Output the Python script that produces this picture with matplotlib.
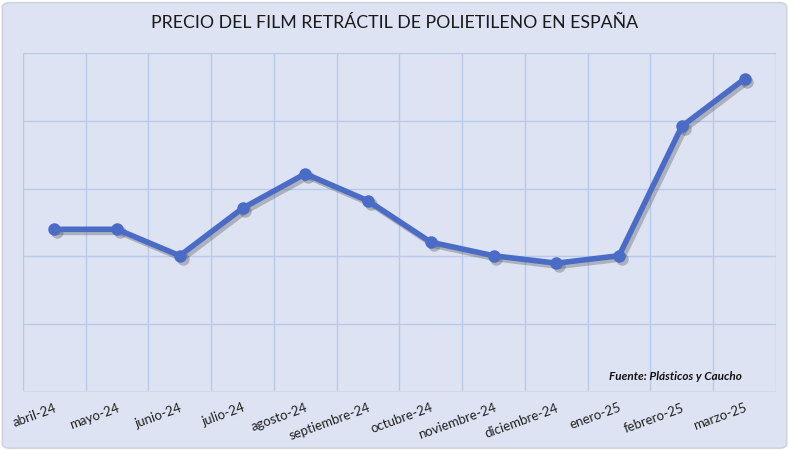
import matplotlib.pyplot as plt
import matplotlib.transforms as mtransforms
from matplotlib.patches import FancyBboxPatch
import numpy as np

# datos (escala relativa, el original no muestra eje Y)
meses = ['abril-24', 'mayo-24', 'junio-24', 'julio-24', 'agosto-24', 'septiembre-24',
         'octubre-24', 'noviembre-24', 'diciembre-24', 'enero-25', 'febrero-25', 'marzo-25']
precio = [2.40, 2.40, 2.01, 2.71, 3.22, 2.82, 2.21, 2.01, 1.90, 2.01, 3.92, 4.62]

bg = '#dde3f3'
azul = '#4a6cc6'
rejilla = '#b8c9ea'

plt.rcParams['font.family'] = ['Lato', 'DejaVu Sans']

fig = plt.figure(figsize=(7.89, 4.5), dpi=100)
fig.patch.set_facecolor('white')
fig.patches.append(FancyBboxPatch((0.003, 0.004), 0.994, 0.99, boxstyle='round,pad=0,rounding_size=0.01',
                                  transform=fig.transFigure, facecolor=bg, edgecolor='#cfd3dc',
                                  linewidth=1.2, zorder=-10))

ax = fig.add_axes([0.029, 0.129, 0.9545, 0.753])
ax.set_facecolor(bg)

x = np.arange(len(meses))
# sombra
sombra = ax.transData + mtransforms.ScaledTranslation(2 / 72, -2 / 72, fig.dpi_scale_trans)
ax.plot(x, precio, color='#555555', alpha=0.35, linewidth=4.5, marker='o', markersize=9,
        markeredgewidth=0, transform=sombra, zorder=2)
ax.plot(x, precio, color=azul, linewidth=4, marker='o', markersize=9, markeredgewidth=0,
        solid_capstyle='round', zorder=3)

ax.set_xlim(-0.5, len(meses) - 0.5)
ax.set_ylim(0, 5)

# rejilla entre categorias
for b in np.arange(-0.5, len(meses), 1):
    ax.axvline(b, color=rejilla, linewidth=1, zorder=1)
for h in range(1, 6):
    ax.axhline(h, color=rejilla, linewidth=1, zorder=1)
ax.axhline(0, color='#d4d8e0', linewidth=1.5, zorder=2)

for s in ax.spines.values():
    s.set_visible(False)
ax.set_yticks([])
ax.set_xticks(x)
ax.set_xticklabels(meses, rotation=20, ha='right', rotation_mode='anchor', fontsize=9.5, color='#222222')
ax.tick_params(axis='x', length=0, pad=7)

fig.text(0.5, 0.948, 'PRECIO DEL FILM RETRÁCTIL DE POLIETILENO EN ESPAÑA', ha='center', va='center',
         fontsize=12.8, color='#1a1a1a')
ax.text(0.955, 0.045, 'Fuente: Plásticos y Caucho', transform=ax.transAxes, ha='right', va='center',
        fontsize=8.5, fontweight='bold', fontstyle='italic', color='#111111')

plt.savefig('out.png', dpi=100, facecolor=fig.get_facecolor())
